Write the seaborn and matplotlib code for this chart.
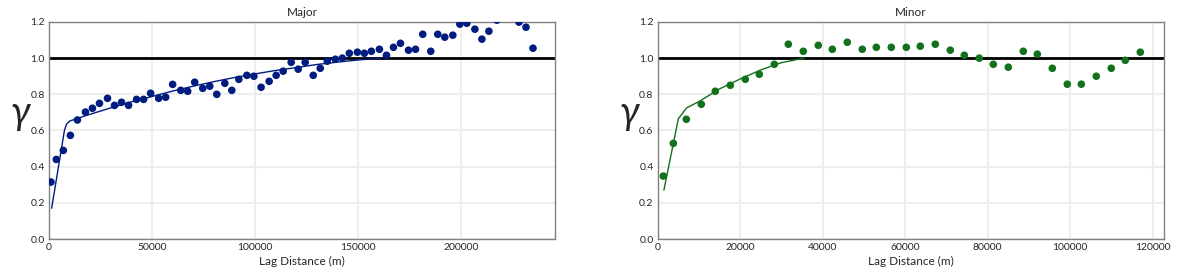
import numpy as np
import pandas as pd
import matplotlib
matplotlib.use("Agg")
import matplotlib.pyplot as plt
import seaborn as sns

major_lag = [970, 3560, 6970, 10380, 13800, 17700, 21100, 24500, 28400, 31800,
             35200, 38600, 42500, 45900, 49300, 53200, 56600, 60000, 63900, 67300,
             70700, 74600, 78000, 81400, 85300, 88700, 92100, 96000, 99400, 102900,
             106800, 110200, 113600, 117500, 120900, 124300, 128200, 131600, 135000, 138900,
             142300, 145700, 149600, 153000, 156400, 160300, 163700, 167100, 170500, 174400,
             177800, 181300, 185200, 188600, 192000, 195900, 199300, 202700, 206600, 210000,
             213400, 217300, 228000, 231400, 234800]
major_gam = [0.315, 0.44, 0.49, 0.573, 0.658, 0.702, 0.723, 0.75, 0.778, 0.739,
             0.756, 0.739, 0.772, 0.772, 0.806, 0.778, 0.784, 0.855, 0.822, 0.817,
             0.867, 0.833, 0.845, 0.80, 0.861, 0.822, 0.883, 0.905, 0.90, 0.839,
             0.872, 0.905, 0.928, 0.977, 0.939, 0.977, 0.905, 0.944, 0.983, 0.994,
             1.0, 1.027, 1.033, 1.027, 1.038, 1.049, 1.016, 1.06, 1.082, 1.044,
             1.049, 1.132, 1.038, 1.132, 1.116, 1.127, 1.188, 1.193, 1.16, 1.105,
             1.149, 1.21, 1.199, 1.171, 1.055]

minor_lag = [1360, 3790, 6940, 10570, 13960, 17600, 21240, 24630, 28270, 31660,
             35300, 38930, 42330, 45960, 49600, 53000, 56630, 60270, 63660, 67300,
             70930, 74330, 77960, 81360, 85000, 88630, 92030, 95660, 99300, 102700,
             106330, 109960, 113360, 117000]
minor_gam = [0.348, 0.529, 0.662, 0.745, 0.817, 0.85, 0.883, 0.911, 0.966, 1.077,
             1.038, 1.071, 1.049, 1.088, 1.049, 1.06, 1.06, 1.06, 1.066, 1.077,
             1.044, 1.016, 1.0, 0.966, 0.95, 1.038, 1.022, 0.944, 0.856, 0.856,
             0.90, 0.944, 0.988, 1.033]

# fitted model curves (vertices)
major_mod_x = [1300, 7500, 8500, 10000, 12000, 20000, 30000, 40000, 50000, 60000,
               70000, 80000, 90000, 100000, 110000, 120000, 130000, 140000, 150000, 161000]
major_mod_y = [0.17, 0.60, 0.635, 0.652, 0.66, 0.69, 0.725, 0.758, 0.788, 0.818,
               0.845, 0.87, 0.893, 0.913, 0.932, 0.948, 0.965, 0.978, 0.99, 1.0]
minor_mod_x = [1500, 5000, 7000, 10000, 15000, 20000, 25000, 30000, 35500]
minor_mod_y = [0.27, 0.665, 0.725, 0.76, 0.83, 0.885, 0.935, 0.975, 1.0]

titles = ["Major", "Minor"]
xmax = [245500, 122700]
xticks = [[0, 50000, 100000, 150000, 200000],
          [0, 20000, 40000, 60000, 80000, 100000, 120000]]
colors = ["#001c7f", "#12711c"]

sns.set_style("white")
plt.rcParams["font.family"] = ["Lato", "DejaVu Sans"]

fig = plt.figure(figsize=(11.77, 2.73), dpi=100)
ax1 = fig.add_axes([0.0416, 0.1245, 0.430, 0.795])
ax2 = fig.add_axes([0.5588, 0.1245, 0.430, 0.795])

pts = [pd.DataFrame({"lag": major_lag, "gam": major_gam}),
       pd.DataFrame({"lag": minor_lag, "gam": minor_gam})]
mods = [pd.DataFrame({"lag": major_mod_x, "gam": major_mod_y}),
        pd.DataFrame({"lag": minor_mod_x, "gam": minor_mod_y})]

for i, ax in enumerate([ax1, ax2]):
    ax.grid(True, color="#eeeeee", linewidth=1.5, zorder=0)
    ax.set_axisbelow(True)
    ax.axhline(1.0, color="black", linewidth=2, zorder=2)
    sns.lineplot(data=mods[i], x="lag", y="gam", ax=ax, color=colors[i],
                 linewidth=1, sort=False, estimator=None, zorder=3)
    sns.scatterplot(data=pts[i], x="lag", y="gam", ax=ax, color=colors[i],
                    s=30, edgecolor="none", zorder=4)
    ax.set_xlim(0, xmax[i])
    ax.set_ylim(0, 1.2)
    ax.set_xticks(xticks[i])
    ax.set_yticks([0.0, 0.2, 0.4, 0.6, 0.8, 1.0, 1.2])
    ax.set_yticklabels(["0.0", "0.2", "0.4", "0.6", "0.8", "1.0", "1.2"])
    ax.tick_params(labelsize=7.5, length=0, pad=3)
    ax.set_title(titles[i], fontsize=8.5, pad=4)
    ax.set_xlabel("Lag Distance (m)", fontsize=8.5, labelpad=3)
    ax.set_ylabel("γ", fontsize=28, rotation=0, style="italic",
                  ha="center", va="center")
    ax.yaxis.set_label_coords(-0.056, 0.58)
    for sp in ax.spines.values():
        sp.set_color("#808080")
        sp.set_linewidth(1)

fig.savefig("out.png", dpi=100)
